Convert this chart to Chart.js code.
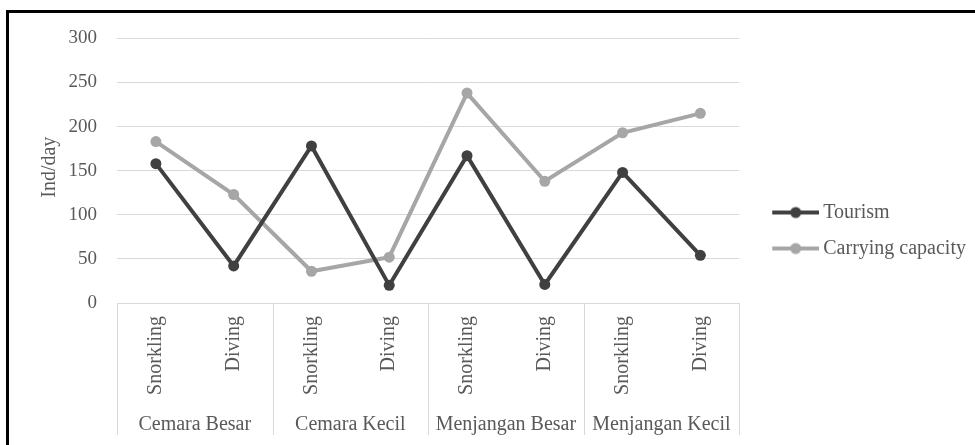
<!DOCTYPE html>
<html>
<head>
<meta charset="utf-8">
<script src="https://cdn.jsdelivr.net/npm/chart.js@4/dist/chart.umd.min.js"></script>
<style>
  html, body { margin: 0; padding: 0; background: #fff; }
  #wrap { position: relative; width: 975px; height: 445px; overflow: hidden; }
  #frame { position: absolute; left: 6px; top: 10px; width: 975px; height: 433px;
           border-left: 3px solid #000; border-top: 3px solid #000; border-bottom: 1px solid #e8e8e8;
           pointer-events: none; }
  canvas { position: absolute; left: 0; top: 0; }
</style>
</head>
<body>
<div id="wrap">
  <canvas id="c" width="975" height="445"></canvas>
  <div id="frame"></div>
</div>
<script>
const activities = ["Snorkling", "Diving", "Snorkling", "Diving", "Snorkling", "Diving", "Snorkling", "Diving"];
const sites = ["Cemara Besar", "Cemara Kecil", "Menjangan Besar", "Menjangan Kecil"];
const tourism = [158, 42, 178, 20, 167, 21, 148, 54];
const carryingCapacity = [183, 123, 36, 52, 238, 138, 193, 215];
const yTicks = [0, 50, 100, 150, 200, 250, 300];

const FONT = "'Liberation Serif', 'Times New Roman', serif";
const TXT = '#595959';

function legendIcon(color) {
  const cv = document.createElement('canvas');
  cv.width = 70; cv.height = 14;
  const g = cv.getContext('2d');
  g.strokeStyle = color; g.lineWidth = 4;
  g.beginPath(); g.moveTo(23, 7); g.lineTo(70, 7); g.stroke();
  g.fillStyle = color;
  g.beginPath(); g.arc(46.5, 7, 5.5, 0, Math.PI * 2); g.fill();
  return cv;
}

const separators = {
  id: 'separators',
  afterDraw(chart) {
    const xs = chart.scales.x;
    const ctx = chart.ctx;
    ctx.save();
    ctx.strokeStyle = '#d9d9d9';
    ctx.lineWidth = 1;
    for (let i = 0; i <= sites.length; i++) {
      const px = Math.round(xs.getPixelForValue(2 * i - 0.5)) + 0.5;
      ctx.beginPath();
      ctx.moveTo(px, chart.chartArea.bottom);
      ctx.lineTo(px, chart.chartArea.bottom + 132);
      ctx.stroke();
    }
    ctx.restore();
  }
};

const colors = ['#404040', '#a6a6a6'];

new Chart(document.getElementById('c'), {
  type: 'line',
  data: {
    labels: activities,
    datasets: [
      { label: 'Tourism', data: tourism, borderColor: colors[0], backgroundColor: colors[0],
        borderWidth: 4, pointRadius: 5.5, pointBorderWidth: 0, pointBackgroundColor: colors[0], tension: 0 },
      { label: 'Carrying capacity', data: carryingCapacity, borderColor: colors[1], backgroundColor: colors[1],
        borderWidth: 4, pointRadius: 5.5, pointBorderWidth: 0, pointBackgroundColor: colors[1], tension: 0 }
    ]
  },
  options: {
    responsive: false,
    animation: false,
    layout: { padding: { left: 38, top: 20, right: 2, bottom: 4 } },
    plugins: {
      tooltip: { enabled: false },
      legend: {
        position: 'right',
        labels: {
          font: { family: FONT, size: 20 },
          color: TXT,
          usePointStyle: true,
          pointStyleWidth: 58,
          boxHeight: 14,
          padding: 16,
          generateLabels(chart) {
            return chart.data.datasets.map((ds, i) => ({
              text: ds.label,
              fillStyle: ds.borderColor,
              strokeStyle: ds.borderColor,
              lineWidth: 0,
              pointStyle: legendIcon(ds.borderColor),
              datasetIndex: i,
              hidden: false,
              fontColor: TXT
            }));
          }
        }
      }
    },
    scales: {
      y: {
        min: 0, max: 307.9,
        afterBuildTicks(s) { s.ticks = yTicks.map(v => ({ value: v })); },
        afterFit(s) { s.width = 79; },
        grid: { color: '#d9d9d9', lineWidth: 1, drawTicks: false },
        border: { display: false },
        ticks: { font: { family: FONT, size: 19 }, color: TXT, padding: 20 },
        title: { display: true, text: 'Ind/day', font: { family: FONT, size: 20 }, color: TXT, padding: { top: 0, bottom: 0 } }
      },
      x: {
        type: 'category',
        offset: true,
        afterFit(s) { s.height = 100; },
        grid: { display: false },
        border: { display: false },
        ticks: { font: { family: FONT, size: 20 }, color: TXT, minRotation: 90, maxRotation: 90, padding: 5, autoSkip: false }
      },
      x2: {
        type: 'category',
        labels: sites,
        position: 'bottom',
        offset: true,
        afterFit(s) { s.height = 38; },
        grid: { display: false },
        border: { display: false },
        ticks: { font: { family: FONT, size: 20 }, color: TXT, padding: 2, autoSkip: false, maxRotation: 0 }
      }
    }
  },
  plugins: [separators]
});
</script>
</body>
</html>
